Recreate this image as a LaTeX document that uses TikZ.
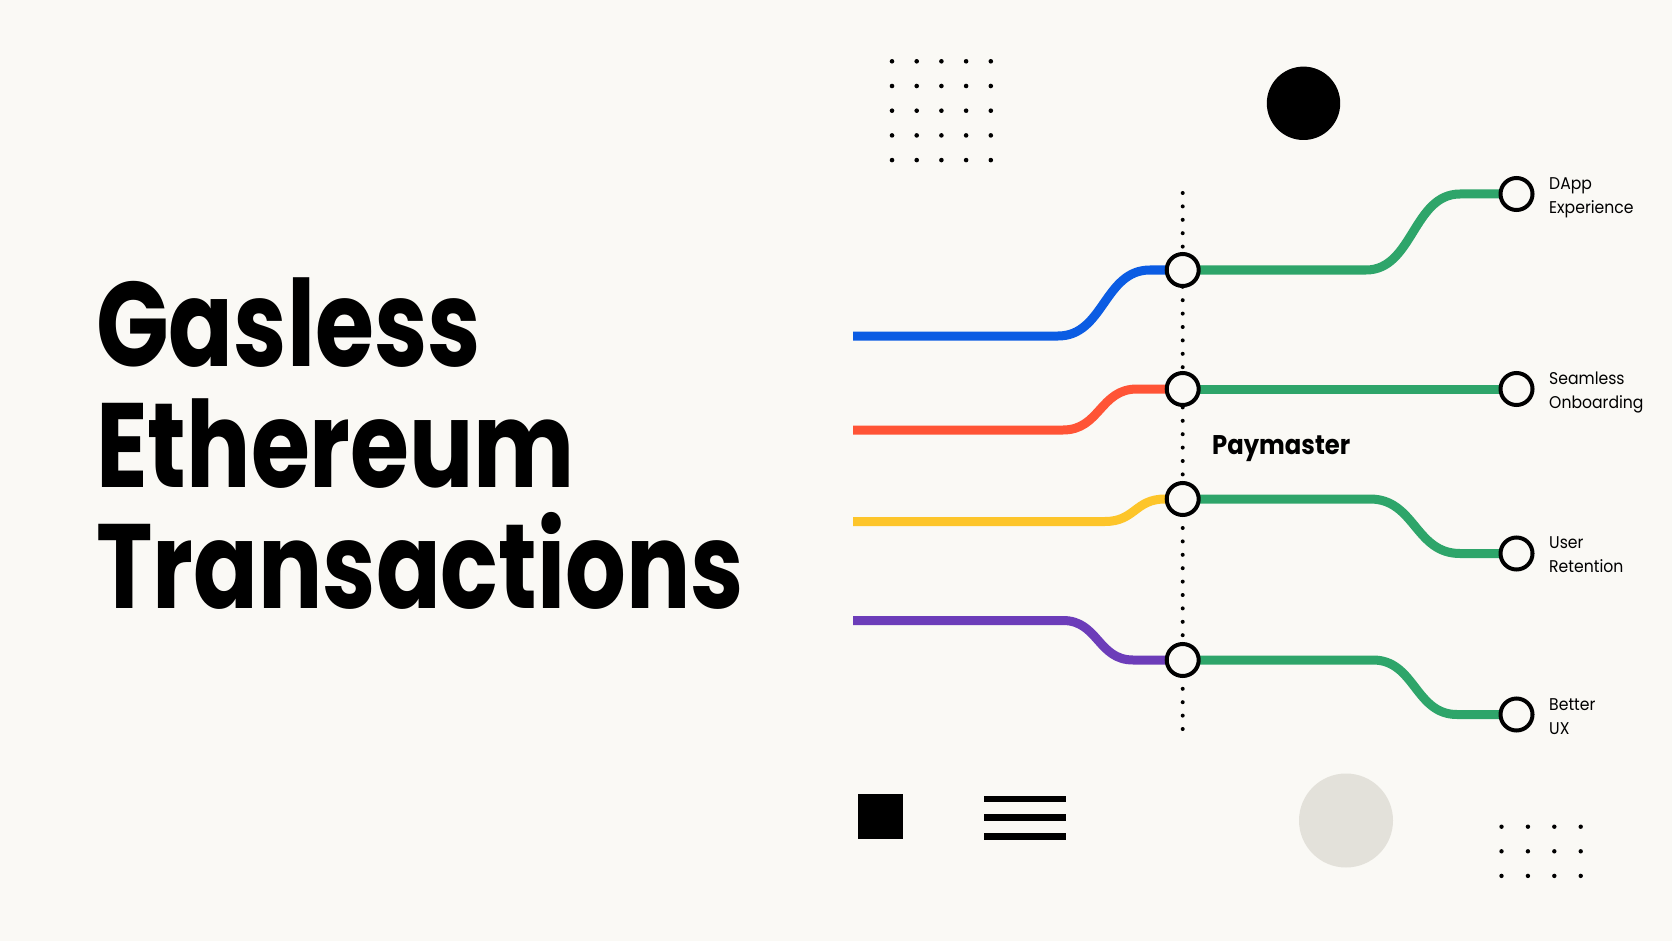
\documentclass[tikz,border=0pt]{standalone}
\usepackage{fontspec}
\setmainfont{Poppins}
\usepackage{graphicx}
\definecolor{bg}{HTML}{FAF9F5}
\definecolor{cgreen}{HTML}{2EA56A}
\definecolor{cblue}{HTML}{0B5CE3}
\definecolor{cred}{HTML}{FF5436}
\definecolor{cyellow}{HTML}{FDC52A}
\definecolor{cpurple}{HTML}{6C3DB9}
\definecolor{cgrey}{HTML}{E3E1DA}
\newcommand{\twoline}[2]{\scalebox{0.92}[1]{\vtop{\hbox{#1}\hbox{#2}}}}
\tikzset{
  flow/.style={line width=9, line cap=butt},
  stopc/.style={circle, draw=black, line width=4, fill=bg, minimum size=32, inner sep=0},
  lbl/.style={anchor=base west, inner sep=0, font={\fontsize{17}{24}\selectfont}},
  ttl/.style={anchor=base west, inner sep=0, font={\fontsize{120}{121}\selectfont\bfseries}},
  dotty/.style={line width=4, dash pattern=on 0pt off 13.4pt, line cap=round},
  bar/.style={line width=6.5}
}
\begin{document}
\begin{tikzpicture}[x=1pt,y=-1pt]
\useasboundingbox (0,0) rectangle (1672,941);
\fill[bg] (0,0) rectangle (1672,941);

% decorations
\foreach \i in {0,...,4} \foreach \j in {0,...,4}
  \fill (892+24.7*\i, 61.3+24.7*\j) circle[radius=2.3];
\fill (1303.5,103.3) circle[radius=36.7];
\fill (858,794) rectangle (903,839);
\draw[bar] (984,799) -- (1066,799);
\draw[bar] (984,817.7) -- (1066,817.7);
\draw[bar] (984,836.3) -- (1066,836.3);
\fill[cgrey] (1346,820.5) circle[radius=47];
\foreach \i in {0,...,3} \foreach \j in {0,...,2}
  \fill (1501.5+26.4*\i, 826.7+24.6*\j) circle[radius=2.2];

% title
\node[ttl] (T) at (96,366) {\scalebox{0.796}[1]{\vtop{\hbox{Gasless}\hbox{Ethereum}\hbox{Transactions}}}};

% coordinates
\coordinate (dtop) at (1182.7,193);
\coordinate (dbot) at (1182.7,731);
\coordinate (s1) at (853,336);
\coordinate (s2) at (853,430);
\coordinate (s3) at (853,521.5);
\coordinate (s4) at (853,620.5);
\coordinate (p1) at (1182.7,270);
\coordinate (p2) at (1182.7,389);
\coordinate (p3) at (1182.7,499);
\coordinate (p4) at (1182.7,660);
\coordinate (o1) at (1516.5,194);
\coordinate (o2) at (1516.5,389);
\coordinate (o3) at (1516.5,553.5);
\coordinate (o4) at (1516.5,714.5);

\draw[dotty] (dtop) -- (dbot);

% incoming lines
\draw[flow,cblue] (s1) -- (1058,336) .. controls (1104,336) and (1104,270) .. (1150,270) -- (p1);
\draw[flow,cred] (s2) -- (1063,430) .. controls (1100,430) and (1100,389) .. (1137,389) -- (p2);
\draw[flow,cyellow] (s3) -- (1105,521.5) .. controls (1135,521.5) and (1135,499) .. (1165,499) -- (p3);
\draw[flow,cpurple] (s4) -- (1063,620.5) .. controls (1098,620.5) and (1098,660) .. (1133,660) -- (p4);

% outgoing lines
\draw[flow,cgreen] (p1) -- (1366,270) .. controls (1413,270) and (1413,194) .. (1460,194) -- (o1);
\draw[flow,cgreen] (p2) -- (o2);
\draw[flow,cgreen] (p3) -- (1370,499) .. controls (1415,499) and (1415,553.5) .. (1460,553.5) -- (o3);
\draw[flow,cgreen] (p4) -- (1373,660) .. controls (1415,660) and (1415,714.5) .. (1457,714.5) -- (o4);

% stops
\node[stopc] (P1) at (p1) {};
\node[stopc] (P2) at (p2) {};
\node[stopc] (P3) at (p3) {};
\node[stopc] (P4) at (p4) {};
\node[stopc] (O1) at (o1) {};
\node[stopc] (O2) at (o2) {};
\node[stopc] (O3) at (o3) {};
\node[stopc] (O4) at (o4) {};

% labels
\node[anchor=base west, inner sep=0, font={\fontsize{27}{30}\selectfont\bfseries}] (PM) at (1212,454) {\scalebox{0.9}[1]{Paymaster}};
\node[lbl] (L1) at (1549,189.5) {\twoline{DApp}{Experience}};
\node[lbl] (L2) at (1549,384) {\twoline{Seamless}{Onboarding}};
\node[lbl] (L3) at (1549,548) {\twoline{User}{Retention}};
\node[lbl] (L4) at (1549,710.5) {\twoline{Better}{UX}};
\end{tikzpicture}
\end{document}
